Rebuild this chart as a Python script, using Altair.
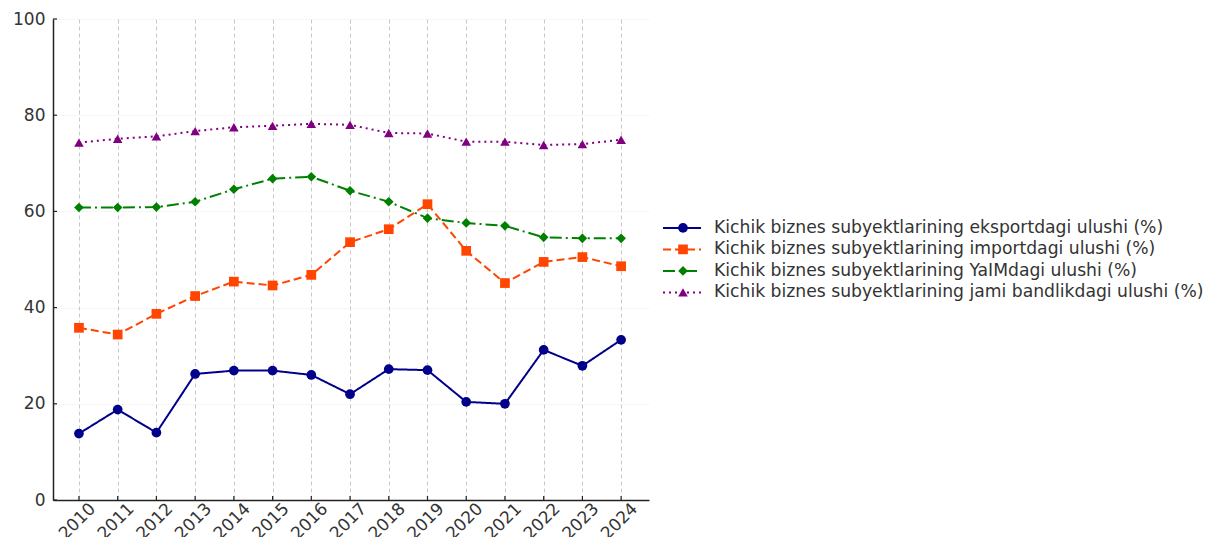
import altair as alt
import pandas as pd

years = list(range(2010, 2025))
series_names = [
    "Kichik biznes subyektlarining eksportdagi ulushi (%)",
    "Kichik biznes subyektlarining importdagi ulushi (%)",
    "Kichik biznes subyektlarining YaIMdagi ulushi (%)",
    "Kichik biznes subyektlarining jami bandlikdagi ulushi (%)",
]
export_share = [13.8, 18.8, 14.0, 26.2, 26.9, 26.9, 26.0, 22.0, 27.2, 27.0, 20.4, 20.0, 31.2, 27.9, 33.3]
import_share = [35.8, 34.4, 38.7, 42.4, 45.4, 44.6, 46.8, 53.6, 56.3, 61.5, 51.8, 45.1, 49.5, 50.5, 48.6]
gdp_share = [60.8, 60.8, 60.9, 62.0, 64.6, 66.8, 67.2, 64.3, 62.0, 58.6, 57.6, 57.0, 54.6, 54.4, 54.4]
employment_share = [74.3, 75.1, 75.6, 76.7, 77.5, 77.8, 78.2, 78.0, 76.3, 76.2, 74.5, 74.5, 73.8, 74.0, 74.9]
y_ticks = [0, 20, 40, 60, 80, 100]

colors = ["#00008B", "#FF4500", "#008000", "#800080"]
dashes = [[1, 0], [8, 4], [12, 4, 2, 4], [2, 4]]
shapes = ["circle", "square", "diamond", "triangle-up"]
marker_sizes = [95, 92, 200, 100]

all_values = [export_share, import_share, gdp_share, employment_share]
rows = []
for name, vals in zip(series_names, all_values):
    for yr, v in zip(years, vals):
        rows.append({"year": yr, "series": name, "value": v})
df = pd.DataFrame(rows)
legend_df = pd.DataFrame({"series": series_names, "idx": list(range(len(series_names)))})
xtick_df = pd.DataFrame({"year": years})
ytick_df = pd.DataFrame({"value": y_ticks})

FONT = "DejaVu Sans"
TXT = "#333333"
W, H = 596, 481
ROW = 21.5

color_scale = alt.Scale(domain=series_names, range=colors)
dash_scale = alt.Scale(domain=series_names, range=dashes)
shape_scale = alt.Scale(domain=series_names, range=shapes)
size_scale = alt.Scale(domain=series_names, range=marker_sizes)

x_enc = alt.X(
    "year:Q",
    scale=alt.Scale(domain=[2009.33, 2024.72], nice=False, zero=False),
    axis=alt.Axis(
        values=years, format="d", title=None, labelAngle=-45, labelAlign="center",
        labelBaseline="middle", labelPadding=21, labelOffset=-2, ticks=False, labelFontSize=17,
        labelOverlap=False, labelBound=False, labelFlush=False,
        grid=True, gridDash=[4, 3], gridColor="#c8c8c8", gridWidth=1,
        domainColor="#222222", domainWidth=1.5, labelColor=TXT, labelFont=FONT,
    ),
)
y_enc = alt.Y(
    "value:Q",
    scale=alt.Scale(domain=[0, 100], nice=False),
    axis=alt.Axis(
        values=y_ticks, title=None, ticks=False, labelPadding=8, labelFontSize=17,
        labelOverlap=False, labelFlush=False,
        grid=True, gridDash=[1, 2], gridColor="#e2e2e2", gridWidth=1,
        domainColor="#222222", domainWidth=1.5, labelColor=TXT, labelFont=FONT,
    ),
)

base = alt.Chart(df).encode(x=x_enc, y=y_enc)

lines = base.mark_line(strokeWidth=2).encode(
    color=alt.Color("series:N", scale=color_scale, legend=None),
    strokeDash=alt.StrokeDash("series:N", scale=dash_scale, legend=None),
    detail="series:N",
)
points = base.mark_point(filled=True, opacity=1).encode(
    color=alt.Color("series:N", scale=color_scale, legend=None),
    shape=alt.Shape("series:N", scale=shape_scale, legend=None),
    size=alt.Size("series:N", scale=size_scale, legend=None),
)

xticks = alt.Chart(xtick_df).mark_rule(color="#222222", strokeWidth=1.2).encode(
    x="year:Q", y=alt.value(H), y2=alt.value(H - 4)
)
yticks = alt.Chart(ytick_df).mark_rule(color="#222222", strokeWidth=1.2).encode(
    y="value:Q", x=alt.value(0), x2=alt.value(4)
)

main = alt.layer(lines, points, xticks, yticks).properties(width=W, height=H)

half = H / ROW / 2
mid = (len(series_names) - 1) / 2
shift = 0.03
leg_y = alt.Y(
    "idx:Q",
    scale=alt.Scale(domain=[mid - half - shift, mid + half - shift], reverse=True, nice=False, zero=False),
    axis=None,
)
leg_base = alt.Chart(legend_df).encode(y=leg_y)
leg_lines = leg_base.mark_rule(strokeWidth=2).encode(
    x=alt.value(2), x2=alt.value(40),
    color=alt.Color("series:N", scale=color_scale, legend=None),
    strokeDash=alt.StrokeDash("series:N", scale=dash_scale, legend=None),
)
leg_points = leg_base.mark_point(filled=True, opacity=1).encode(
    x=alt.value(22),
    color=alt.Color("series:N", scale=color_scale, legend=None),
    shape=alt.Shape("series:N", scale=shape_scale, legend=None),
    size=alt.Size("series:N", scale=size_scale, legend=None),
)
leg_text = leg_base.mark_text(align="left", baseline="middle", fontSize=17.2, font=FONT, color=TXT).encode(
    x=alt.value(53), text="series:N"
)
legend_panel = alt.layer(leg_lines, leg_points, leg_text).properties(width=530, height=H)

chart = (
    alt.hconcat(main, legend_panel, spacing=12)
    .resolve_scale(y="independent", x="independent")
    .configure_view(stroke=None)
    .properties(padding={"left": 4, "top": 2, "right": 0, "bottom": 0})
)

chart.save("out.html", embed_options={"renderer": "svg", "actions": False})
